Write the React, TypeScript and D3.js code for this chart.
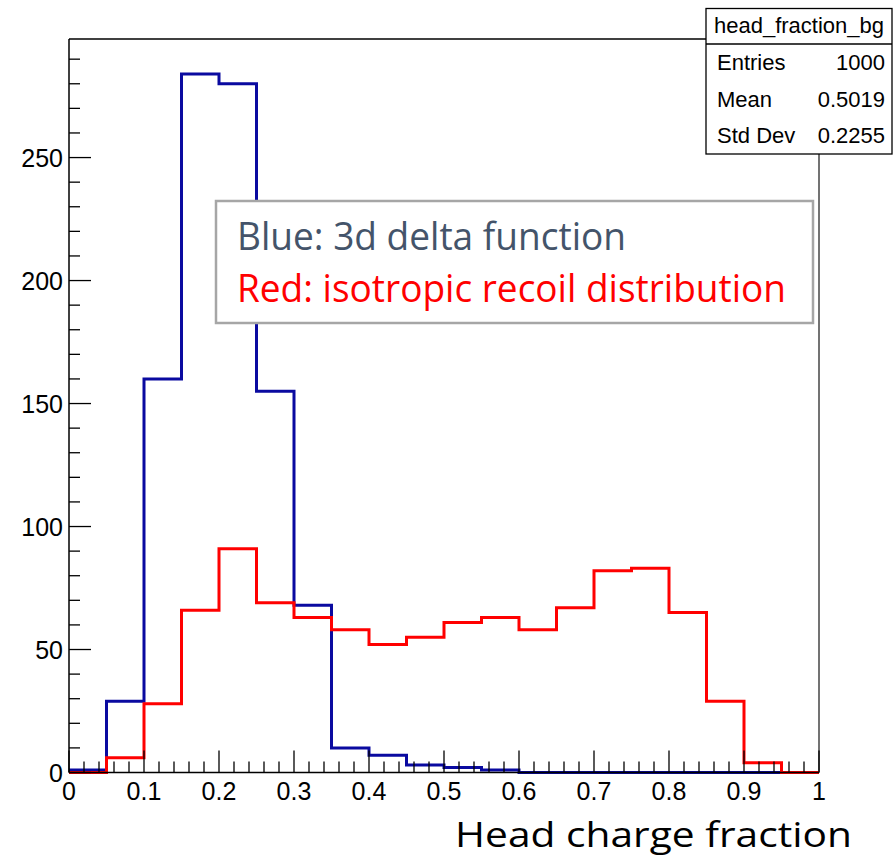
import React from "react";
import * as d3 from "d3";

const binEdgesStart = [0, 0.05, 0.1, 0.15, 0.2, 0.25, 0.3, 0.35, 0.4, 0.45, 0.5, 0.55, 0.6, 0.65, 0.7, 0.75, 0.8, 0.85, 0.9, 0.95];
const binWidth = 0.05;
const blueCounts = [1, 29, 160, 284, 280, 155, 68, 10, 7, 3, 2, 1, 0, 0, 0, 0, 0, 0, 0, 0];
const redCounts = [0, 6, 28, 66, 91, 69, 63, 58, 52, 55, 61, 63, 58, 67, 82, 83, 65, 29, 4, 0];
const xTickLabels = ["0", "0.1", "0.2", "0.3", "0.4", "0.5", "0.6", "0.7", "0.8", "0.9", "1"];
const yTickValues = [0, 50, 100, 150, 200, 250];
const statsRows = [
  ["Entries", "1000"],
  ["Mean", "0.5019"],
  ["Std Dev", "0.2255"],
];
const statsTitle = "head_fraction_bg";
const legendLines = [
  { text: "Blue: 3d delta function", color: "#44546a" },
  { text: "Red: isotropic recoil distribution", color: "#ff0000" },
];
const xTitle = "Head charge fraction";

const W = 894;
const H = 859;
const X0 = 69, X1 = 819, Y0 = 772.5, Y1 = 39;

export default function App() {
  const x = d3.scaleLinear().domain([0, 1]).range([X0, X1]);
  const y = d3.scaleLinear().domain([0, 298.2]).range([Y0, Y1]);

  const stepPath = (counts: number[]) => {
    const pts: [number, number][] = [];
    counts.forEach((c, i) => {
      pts.push([binEdgesStart[i], c]);
      pts.push([binEdgesStart[i] + binWidth, c]);
    });
    return d3.line<[number, number]>().x(d => x(d[0])).y(d => y(d[1]))(pts) || "";
  };

  const xMinor = d3.range(0, 51).map(i => i * 0.02);
  const yMinor = d3.range(0, 30).map(i => i * 10);
  const font = "'Liberation Sans', Arial, Helvetica, sans-serif";
  const legendFont = "'Open Sans', 'Noto Sans', sans-serif";
  const rowY = [70, 107, 143];

  return (
    <svg width={W} height={H} style={{ position: "absolute", left: 0, top: 0, background: "#fff" }}>
      <rect x={0} y={0} width={W} height={H} fill="#fff" />
      {/* frame */}
      <line x1={X0} y1={Y1} x2={X1} y2={Y1} stroke="#000" strokeWidth={1.5} />
      <line x1={X1} y1={Y1} x2={X1} y2={Y0} stroke="#444" strokeWidth={1.5} />
      {/* histograms */}
      <path d={stepPath(blueCounts)} fill="none" stroke="#0a0aa0" strokeWidth={3} />
      <path d={stepPath(redCounts)} fill="none" stroke="#ff0000" strokeWidth={3} />
      {/* axes */}
      <line x1={X0} y1={Y0} x2={X1} y2={Y0} stroke="#000" strokeWidth={1.5} />
      <line x1={X0} y1={Y1} x2={X0} y2={Y0} stroke="#000" strokeWidth={1.5} />
      {xMinor.map((v, i) => (
        <line key={"xt" + i} x1={x(v)} x2={x(v)} y1={Y0} y2={Y0 - (i % 5 === 0 ? 22 : 11)} stroke="#000" strokeWidth={1.3} />
      ))}
      {yMinor.map((v, i) => (
        <line key={"yt" + i} x1={X0} x2={X0 + (i % 5 === 0 ? 22 : 11)} y1={y(v)} y2={y(v)} stroke="#000" strokeWidth={1.3} />
      ))}
      {xTickLabels.map((t, i) => (
        <text key={"xl" + i} x={x(i / 10)} y={800} textAnchor="middle" fontFamily={font} fontSize={25} fill="#000">{t}</text>
      ))}
      {yTickValues.map((v, i) => (
        <text key={"yl" + i} x={63} y={y(v) + 9} textAnchor="end" fontFamily={font} fontSize={25} fill="#000">{v}</text>
      ))}
      {/* stats box */}
      <rect x={706} y={8.5} width={186} height={145.5} fill="#fff" stroke="#000" strokeWidth={1.3} />
      <line x1={706} x2={892} y1={44} y2={44} stroke="#000" strokeWidth={1.3} />
      <text x={799} y={33} textAnchor="middle" fontFamily={font} fontSize={22} fill="#000">{statsTitle}</text>
      {statsRows.map((r, i) => (
        <g key={"sr" + i}>
          <text x={717} y={rowY[i]} fontFamily={font} fontSize={22} fill="#000">{r[0]}</text>
          <text x={885} y={rowY[i]} textAnchor="end" fontFamily={font} fontSize={22} fill="#000">{r[1]}</text>
        </g>
      ))}
      {/* legend box */}
      <rect x={216} y={201} width={597} height={122} fill="#fff" stroke="#a6a6a6" strokeWidth={2.5} />
      {legendLines.map((l, i) => (
        <text key={"lg" + i} x={237} y={250 + i * 52} fontFamily={legendFont} fontSize={38}
          fill={l.color} textLength={i === 0 ? 389 : 549} lengthAdjust="spacingAndGlyphs">{l.text}</text>
      ))}
      {/* x title */}
      <text x={455} y={847} fontFamily={legendFont} fontSize={35.5} fill="#000" textLength={397} lengthAdjust="spacingAndGlyphs">{xTitle}</text>
    </svg>
  );
}
